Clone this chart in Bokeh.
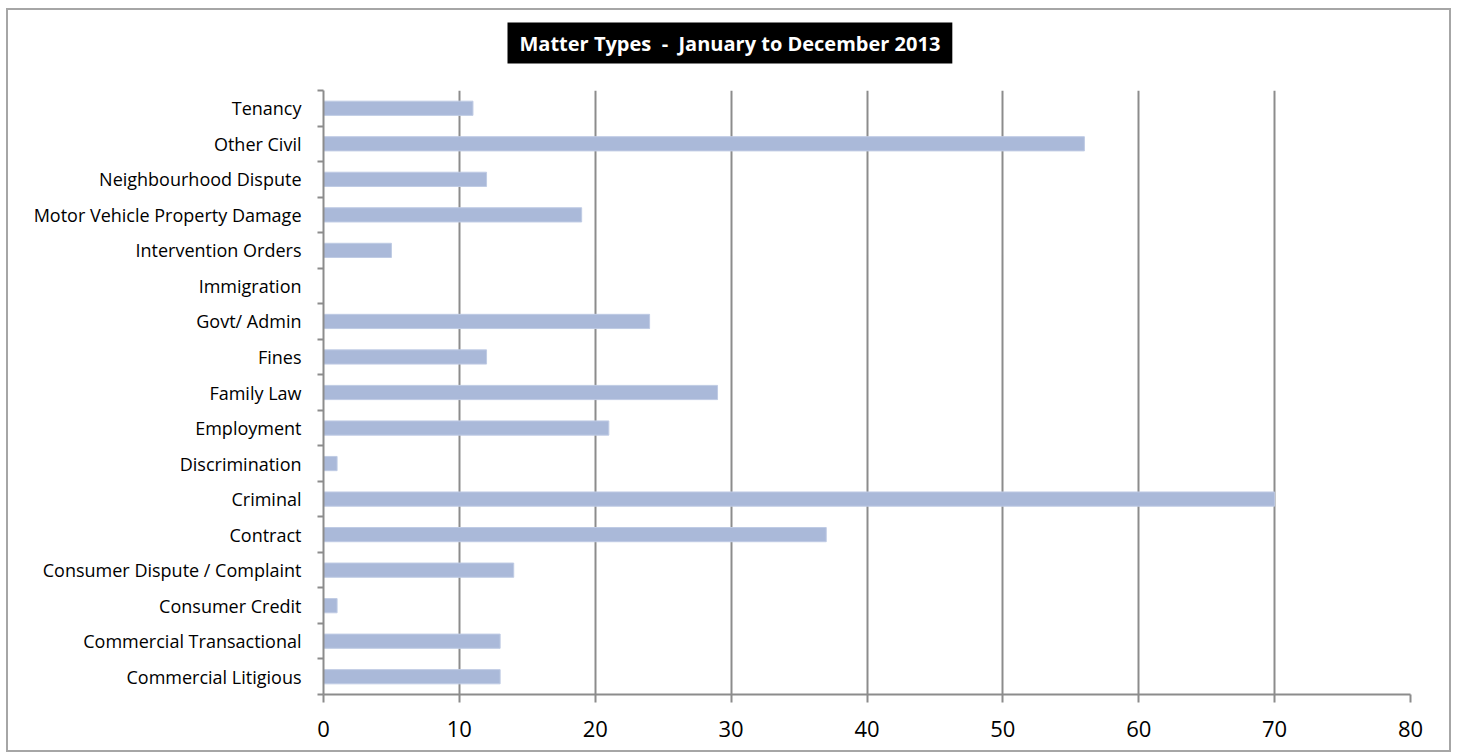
from bokeh.plotting import figure
from bokeh.models import Range1d, FixedTicker, Title, ColumnDataSource
from bokeh.embed import file_html
from bokeh.resources import INLINE

# Data (bottom to top as drawn)
categories = [
    "Commercial Litigious",
    "Commercial Transactional",
    "Consumer Credit",
    "Consumer Dispute / Complaint",
    "Contract",
    "Criminal",
    "Discrimination",
    "Employment",
    "Family Law",
    "Fines",
    "Govt/ Admin",
    "Immigration",
    "Intervention Orders",
    "Motor Vehicle Property Damage",
    "Neighbourhood Dispute",
    "Other Civil",
    "Tenancy",
]
values = [13, 13, 1, 14, 37, 70, 1, 21, 29, 12, 24, 0, 5, 19, 12, 56, 11]
x_ticks = [0, 10, 20, 30, 40, 50, 60, 70, 80]
title_text = "Matter Types \u00a0-\u00a0 January to December 2013"

FONT = "Open Sans"
GRID = "#8c8c8c"

n = len(categories)
centers = [i + 0.5 for i in range(n)]
bounds = list(range(n + 1))

src = ColumnDataSource(dict(y=centers, v=values, name=categories))

p = figure(
    width=1445, height=744, title=None,
    x_range=Range1d(0, 80), y_range=Range1d(0, n),
    output_backend="svg", toolbar_location=None,
    min_border_left=315, min_border_right=43,
    min_border_top=80, min_border_bottom=60,
)
p.styles = {"border": "2px solid #a6a6a6", "margin-left": "6px", "margin-top": "8px"}
p.outline_line_color = None
p.background_fill_color = "white"
p.border_fill_color = "white"

p.hbar(y="y", right="v", left=0, height=0.4, source=src,
       fill_color="#aab9d9", line_color="#bfcbe4", line_width=1)

# x axis
xa = p.xaxis[0]
xa.ticker = FixedTicker(ticks=x_ticks)
xa.axis_line_color = GRID
xa.axis_line_width = 2
xa.major_tick_line_color = GRID
xa.major_tick_line_width = 2
xa.major_tick_in = 0
xa.major_tick_out = 8
xa.minor_tick_line_color = None
xa.major_label_text_font = FONT
xa.major_label_text_font_size = "22px"
xa.major_label_text_color = "black"
xa.major_label_standoff = 18

# y axis
ya = p.yaxis[0]
ya.ticker = FixedTicker(ticks=centers, minor_ticks=bounds)
ya.major_label_overrides = {c: name for c, name in zip(centers, categories)}
ya.axis_line_color = GRID
ya.axis_line_width = 2
ya.major_tick_line_color = None
ya.major_tick_in = 0
ya.major_tick_out = 0
ya.minor_tick_line_color = GRID
ya.minor_tick_line_width = 2
ya.minor_tick_in = 0
ya.minor_tick_out = 6
ya.major_label_text_font = FONT
ya.major_label_text_font_size = "18px"
ya.major_label_text_color = "black"
ya.major_label_standoff = 16

p.xgrid.ticker = FixedTicker(ticks=x_ticks)
p.xgrid.grid_line_color = GRID
p.xgrid.grid_line_width = 2
p.ygrid.grid_line_color = None

# spacer between frame and title (added first -> closest to the frame)
spacer = Title(text="\u00a0", text_font_size="1px", standoff=14, padding=0)
p.add_layout(spacer, "above")

title = Title(
    text=title_text, align="left", offset=184,
    text_font=FONT, text_font_size="20px", text_font_style="bold",
    text_color="white", background_fill_color="black",
    padding=(12, 7), standoff=20,
)
p.add_layout(title, "above")

open("out.html", "w").write(file_html(p, INLINE))
